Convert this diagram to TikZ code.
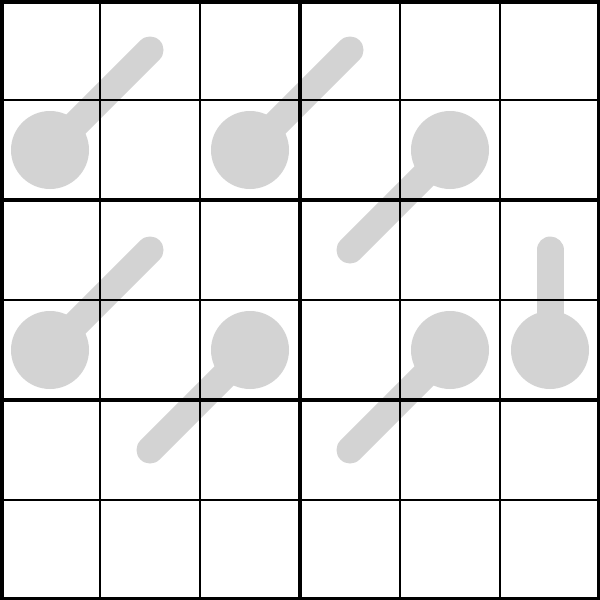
\documentclass[tikz,border=0pt]{standalone}
\begin{document}
\begin{tikzpicture}[y=-1cm,
  thermo/.style={line width=0.27cm, line cap=round, draw=thermocol},
  bulb/.style={circle, fill=thermocol, minimum size=0.78cm, inner sep=0pt},
  thin/.style={line width=0.015cm, black},
  thick/.style={line width=0.035cm, black}]
\definecolor{thermocol}{RGB}{211,211,211}
\useasboundingbox (0,0) rectangle (6,6);
\fill[white] (0,0) rectangle (6,6);
% thermometers
\node[bulb] (b1) at (0.5,1.5) {};
\coordinate (t1) at (1.5,0.5);
\node[bulb] (b2) at (2.5,1.5) {};
\coordinate (t2) at (3.5,0.5);
\node[bulb] (b3) at (4.5,1.5) {};
\coordinate (t3) at (3.5,2.5);
\node[bulb] (b4) at (0.5,3.5) {};
\coordinate (t4) at (1.5,2.5);
\node[bulb] (b5) at (2.5,3.5) {};
\coordinate (t5) at (1.5,4.5);
\node[bulb] (b6) at (4.5,3.5) {};
\coordinate (t6) at (3.5,4.5);
\node[bulb] (b7) at (5.5,3.5) {};
\coordinate (t7) at (5.5,2.5);
\foreach \i in {1,...,7} {\draw[thermo] (b\i.center) -- (t\i);}
% grid
\foreach \k in {1,2,4,5} {\draw[thin] (\k,0) -- (\k,6);}
\foreach \k in {1,3,5} {\draw[thin] (0,\k) -- (6,\k);}
\draw[thick] (3,0) -- (3,6);
\draw[thick] (0,2) -- (6,2);
\draw[thick] (0,4) -- (6,4);
\draw[line width=0.07cm] (0,0) rectangle (6,6);
\end{tikzpicture}
\end{document}
